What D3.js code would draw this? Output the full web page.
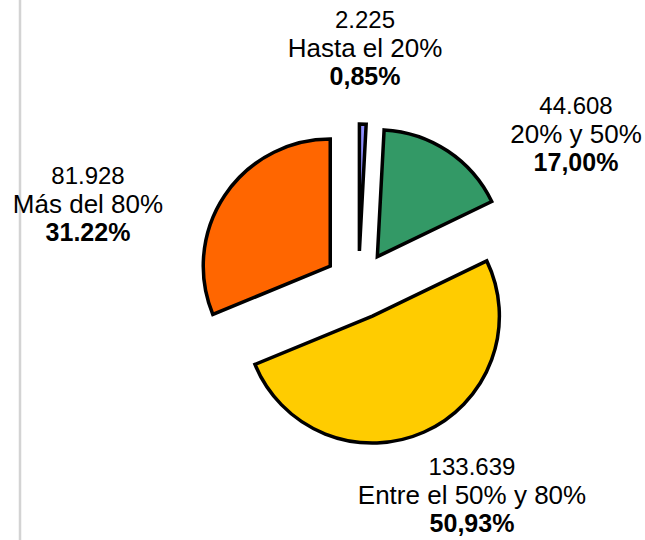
<!DOCTYPE html>
<html>
<head>
<meta charset="utf-8">
<script src="https://cdn.jsdelivr.net/npm/d3@7"></script>
<style>
  body { margin: 0; background: #fff; }
  svg { display: block; font-family: "Liberation Sans", Arial, sans-serif; }
</style>
</head>
<body>
<svg id="chart"></svg>
<script>
// data
const categories = ["Hasta el 20%", "20% y 50%", "Entre el 50% y 80%", "Más del 80%"];
const values = [2225, 44608, 133639, 81928];
const pctLabels = ["0,85%", "17,00%", "50,93%", "31.22%"];
const colors = ["#8f8fff", "#339966", "#ffcc00", "#ff6600"];

let width = 645, height = 540;
let cx = 358.5, cy = 285, radius = 127, explode = 34;
// label block centre x and baseline of the first line (same order as categories)
let labelPos = [[365, 28], [576, 114], [472, 475], [88, 184]];
let lineGap = 28.5;

const esFormat = d3.formatLocale({decimal: ",", thousands: ".", grouping: [3], currency: ["", ""]}).format(",d");

let svg = d3.select("#chart")
    .attr("width", width)
    .attr("height", height);

// thin grey frame edge on the left
svg.append("line")
    .attr("x1", 20).attr("x2", 20)
    .attr("y1", 0).attr("y2", height)
    .attr("stroke", "#d3d3d3")
    .attr("stroke-width", 2.5);

let pie = d3.pie().sort(null).value(d => d);
let arc = d3.arc().innerRadius(0).outerRadius(radius);
let slices = pie(values);

let g = svg.append("g").attr("transform", "translate(" + cx + "," + cy + ")");

g.selectAll("path")
  .data(slices)
  .enter().append("path")
    .attr("d", arc)
    .attr("transform", function(d) {
        let mid = (d.startAngle + d.endAngle) / 2;
        return "translate(" + (Math.sin(mid) * explode) + "," + (-Math.cos(mid) * explode) + ")";
    })
    .attr("fill", (d, i) => colors[i])
    .attr("stroke", "#000")
    .attr("stroke-width", 3.5)
    .attr("stroke-linejoin", "miter");

/* labels */
let labels = svg.selectAll("text.lbl")
  .data(slices)
  .enter().append("text")
    .attr("class", "lbl")
    .attr("text-anchor", "middle")
    .attr("fill", "#000");

labels.append("tspan")
    .attr("x", (d, i) => labelPos[i][0])
    .attr("y", (d, i) => labelPos[i][1])
    .attr("font-size", 24)
    .text(d => esFormat(d.value));
labels.append("tspan")
    .attr("x", (d, i) => labelPos[i][0])
    .attr("y", (d, i) => labelPos[i][1] + lineGap)
    .attr("font-size", 26)
    .text((d, i) => categories[i]);
labels.append("tspan")
    .attr("x", (d, i) => labelPos[i][0])
    .attr("y", (d, i) => labelPos[i][1] + 2 * lineGap)
    .attr("font-size", 25)
    .attr("font-weight", "bold")
    .text((d, i) => pctLabels[i]);
</script>
</body>
</html>
